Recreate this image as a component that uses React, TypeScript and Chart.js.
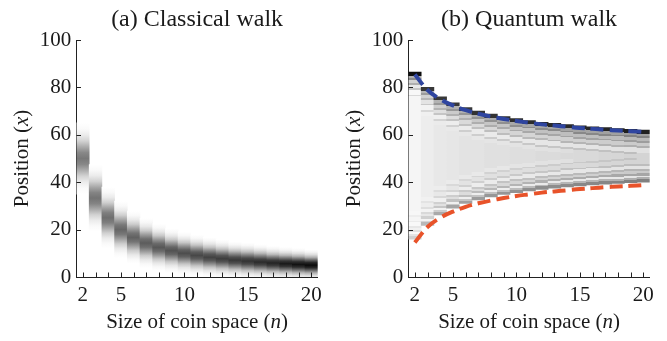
import React, { useEffect, useRef } from "react";
import { Chart, registerables } from "chart.js";

Chart.register(...registerables);

// ---------- data ----------
const N_VALUES = [2, 3, 4, 5, 6, 7, 8, 9, 10, 11, 12, 13, 14, 15, 16, 17, 18, 19, 20];
const X_LABELED = [2, 5, 10, 15, 20];
const Y_MIN = 0;
const Y_MAX = 100;
const Y_STEP = 20;

// Classical walk: centre, spread and peak darkness of each column
const CLASSICAL_CENTER = [50, 33.3, 25, 20, 16.7, 14.3, 12.5, 11.1, 10, 9.1, 8.3, 7.7, 7.1, 6.7, 6.3, 5.9, 5.6, 5.3, 5];
const CLASSICAL_SPREAD = [5, 4.7, 4.3, 4.0, 3.7, 3.5, 3.3, 3.1, 3.0, 2.9, 2.8, 2.7, 2.6, 2.6, 2.5, 2.4, 2.35, 2.3, 2.2];
const CLASSICAL_PEAK = [0.53, 0.55, 0.57, 0.6, 0.62, 0.64, 0.66, 0.68, 0.7, 0.72, 0.74, 0.76, 0.78, 0.8, 0.83, 0.86, 0.9, 0.93, 0.96];
const CLASSICAL_PROFILE = [0, 0.04, 0.14, 0.32, 0.61, 0.88, 1, 0.88, 0.61, 0.32, 0.14, 0.04, 0];

// Quantum walk: extent of each column and its shades
const QUANTUM_COL_TOP = [86.5, 80, 76, 73.5, 71.5, 70, 68.7, 67.7, 66.8, 66, 65.3, 64.8, 64.3, 63.8, 63.4, 63, 62.6, 62.3, 62];
const QUANTUM_COL_BOTTOM = [16, 21.8, 26.2, 29, 31, 32.5, 33.8, 34.8, 35.6, 36.3, 37, 37.5, 38, 38.4, 38.8, 39.2, 39.5, 39.8, 40];
const QUANTUM_TOP_SHADE = [0.95, 0.78, 0.78, 0.78, 0.78, 0.8, 0.8, 0.82, 0.82, 0.83, 0.83, 0.84, 0.84, 0.85, 0.85, 0.86, 0.86, 0.88, 0.88];
const QUANTUM_MID_SHADE = [0.04, 0.07, 0.09, 0.1, 0.11, 0.11, 0.12, 0.12, 0.13, 0.13, 0.14, 0.14, 0.15, 0.15, 0.15, 0.16, 0.16, 0.17, 0.17];
const QUANTUM_BOTTOM_SHADE = [0.2, 0.3, 0.36, 0.38, 0.4, 0.42, 0.44, 0.45, 0.46, 0.47, 0.48, 0.48, 0.49, 0.5, 0.5, 0.51, 0.52, 0.53, 0.53];
// stripes measured from each edge (position units): [from, to, level]
const QUANTUM_TOP_STRIPES: [number, number, number][] = [
  [0, 1.5, 1], [1.5, 2.5, 0.3], [2.5, 3.3, 0.45], [3.3, 4.6, 0.15], [4.6, 5.4, 0.3],
  [5.4, 6.8, 0.05], [6.8, 7.6, 0.2], [7.6, 9.5, -0.3], [9.5, 10.3, 0.12], [10.3, 12, -0.15],
];
const QUANTUM_BOTTOM_STRIPES: [number, number, number][] = [
  [0, 1.2, 0.9], [1.2, 2, 0.4], [2, 2.8, -0.4], [2.8, 3.8, 0.5], [3.8, 4.8, 0.1],
  [4.8, 5.6, 0.35], [5.6, 7, -0.35], [7, 7.8, 0.25], [7.8, 9.5, 0], [9.5, 10.3, 0.18], [10.3, 12, -0.2],
];
// dashed bounds
const QUANTUM_UPPER = [85.4, 78.9, 75, 72.4, 70.4, 68.9, 67.7, 66.7, 65.8, 65.1, 64.4, 63.9, 63.4, 62.9, 62.5, 62.1, 61.8, 61.5, 61.2];
const QUANTUM_LOWER = [14.6, 21.1, 25, 27.6, 29.6, 31.1, 32.3, 33.3, 34.2, 34.9, 35.6, 36.1, 36.6, 37.1, 37.5, 37.9, 38.2, 38.5, 38.8];

// ---------- styles ----------
const FONT = '"Liberation Serif", "Times New Roman", Times, serif';
const TEXT = "#1a1a1a";
const BLUE = "#2f45a0";
const ORANGE = "#e8532a";

function gray(d: number) {
  const v = Math.round(255 * (1 - Math.max(0, Math.min(1, d))));
  return `rgb(${v},${v},${v})`;
}

function classicalFill(ctx: any) {
  const chart = ctx.chart;
  const y = chart.scales && chart.scales.y;
  const i = ctx.dataIndex;
  if (!y || i == null) return "#888";
  const c = CLASSICAL_CENTER[i];
  const s = CLASSICAL_SPREAD[i];
  const y0 = y.getPixelForValue(c + 3 * s);
  const y1 = y.getPixelForValue(c - 3 * s);
  if (!isFinite(y0) || !isFinite(y1) || y0 === y1) return "#888";
  const g = chart.ctx.createLinearGradient(0, y0, 0, y1);
  const n = CLASSICAL_PROFILE.length;
  CLASSICAL_PROFILE.forEach((t, k) => g.addColorStop(k / (n - 1), gray(CLASSICAL_PEAK[i] * t)));
  return g;
}

function quantumFill(ctx: any) {
  const chart = ctx.chart;
  const y = chart.scales && chart.scales.y;
  const i = ctx.dataIndex;
  if (!y || i == null) return "#ddd";
  const top = QUANTUM_COL_TOP[i];
  const bot = QUANTUM_COL_BOTTOM[i];
  const h = top - bot;
  const y0 = y.getPixelForValue(top);
  const y1 = y.getPixelForValue(bot);
  if (!isFinite(y0) || !isFinite(y1) || y0 === y1) return "#ddd";
  const mid = QUANTUM_MID_SHADE[i];
  const shade = (lvl: number, edge: number) => (lvl >= 0 ? mid + (edge - mid) * lvl : mid * (1 + lvl));
  const g = chart.ctx.createLinearGradient(0, y0, 0, y1);
  let topEnd = 0;
  for (const [d0, d1, lvl] of QUANTUM_TOP_STRIPES) {
    if (d1 / h > 0.46) break;
    const col = gray(shade(lvl, QUANTUM_TOP_SHADE[i]));
    g.addColorStop(d0 / h, col);
    g.addColorStop(d1 / h, col);
    topEnd = d1 / h;
  }
  const bottomStops: [number, number, string][] = [];
  let botStart = 1;
  for (const [d0, d1, lvl] of QUANTUM_BOTTOM_STRIPES) {
    if (d1 / h > 0.46) break;
    bottomStops.push([1 - d1 / h, 1 - d0 / h, gray(shade(lvl, QUANTUM_BOTTOM_SHADE[i]))]);
    botStart = 1 - d1 / h;
  }
  g.addColorStop(topEnd, gray(mid));
  g.addColorStop(botStart, gray(mid));
  bottomStops.reverse().forEach(([o0, o1, col]) => {
    g.addColorStop(o0, col);
    g.addColorStop(o1, col);
  });
  return g;
}

function drawMixed(ctx: CanvasRenderingContext2D, parts: [string, boolean][], cx: number, y: number, size: number) {
  const fonts = parts.map(([, it]) => `${it ? "italic " : ""}${size}px ${FONT}`);
  const widths = parts.map(([t], k) => {
    ctx.font = fonts[k];
    return ctx.measureText(t).width;
  });
  const total = widths.reduce((a, b) => a + b, 0);
  let x = cx - total / 2;
  ctx.textAlign = "left";
  ctx.textBaseline = "alphabetic";
  parts.forEach(([t], k) => {
    ctx.font = fonts[k];
    ctx.fillText(t, x, y);
    x += widths[k];
  });
}

function makeDecor(title: string) {
  return {
    id: "decor",
    afterDatasetsDraw(chart: any) {
      const { ctx, chartArea } = chart;
      const xs = chart.scales.x;
      const ys = chart.scales.y;
      ctx.save();
      ctx.strokeStyle = "#222";
      ctx.lineWidth = 1;
      ctx.beginPath();
      for (let i = 0; i < xs.ticks.length; i++) {
        const px = Math.round(xs.getPixelForTick(i)) + 0.5;
        ctx.moveTo(px, chartArea.bottom);
        ctx.lineTo(px, chartArea.bottom - 4.5);
      }
      ys.ticks.forEach((t: any) => {
        const py = Math.round(ys.getPixelForValue(t.value)) + 0.5;
        ctx.moveTo(chartArea.left, py);
        ctx.lineTo(chartArea.left + 4.5, py);
      });
      ctx.stroke();
      ctx.restore();
    },
    afterDraw(chart: any) {
      const { ctx, chartArea } = chart;
      const cx = (chartArea.left + chartArea.right) / 2;
      const cy = (chartArea.top + chartArea.bottom) / 2;
      ctx.save();
      ctx.fillStyle = TEXT;
      ctx.font = `24px ${FONT}`;
      ctx.textAlign = "center";
      ctx.textBaseline = "alphabetic";
      ctx.fillText(title, cx, 26);
      drawMixed(ctx, [["Size of coin space (", false], ["n", true], [")", false]], cx, 328, 21);
      ctx.translate(28, cy);
      ctx.rotate(-Math.PI / 2);
      drawMixed(ctx, [["Position (", false], ["x", true], [")", false]], 0, 0, 21);
      ctx.restore();
    },
  };
}

function makeConfig(kind: "classical" | "quantum"): any {
  const datasets: any[] = [];
  if (kind === "classical") {
    datasets.push({
      type: "bar",
      data: N_VALUES.map((_, i) => [
        CLASSICAL_CENTER[i] - 3 * CLASSICAL_SPREAD[i],
        CLASSICAL_CENTER[i] + 3 * CLASSICAL_SPREAD[i],
      ]),
      backgroundColor: classicalFill,
      borderWidth: 0,
      barPercentage: 1,
      categoryPercentage: 1,
      order: 1,
    });
  } else {
    datasets.push({
      type: "line",
      data: QUANTUM_UPPER,
      borderColor: BLUE,
      borderWidth: 4,
      borderDash: [13, 6],
      pointRadius: 0,
      tension: 0.4,
      fill: false,
      order: 0,
    });
    datasets.push({
      type: "line",
      data: QUANTUM_LOWER,
      borderColor: ORANGE,
      borderWidth: 4,
      borderDash: [13, 6],
      pointRadius: 0,
      tension: 0.4,
      fill: false,
      order: 0,
    });
    datasets.push({
      type: "bar",
      data: N_VALUES.map((_, i) => [QUANTUM_COL_BOTTOM[i], QUANTUM_COL_TOP[i]]),
      backgroundColor: quantumFill,
      borderWidth: 0,
      barPercentage: 1,
      categoryPercentage: 1,
      order: 1,
    });
  }
  const tickFont = { family: FONT, size: 21 };
  return {
    type: "bar",
    data: { labels: N_VALUES.map(String), datasets },
    options: {
      responsive: false,
      animation: false,
      events: [],
      layout: { padding: { top: 40, right: 15.3, bottom: 0, left: 0 } },
      plugins: { legend: { display: false }, tooltip: { enabled: false }, title: { display: false } },
      scales: {
        x: {
          type: "category",
          grid: { display: false, drawTicks: false },
          border: { display: true, color: "#222", width: 1 },
          ticks: {
            autoSkip: false,
            maxRotation: 0,
            padding: 5.5,
            color: TEXT,
            font: tickFont,
            callback: (_v: any, i: number) => (X_LABELED.includes(N_VALUES[i]) ? String(N_VALUES[i]) : ""),
          },
          afterFit: (s: any) => {
            s.height = 64;
          },
        },
        y: {
          type: "linear",
          min: Y_MIN,
          max: Y_MAX,
          grid: { display: false, drawTicks: false },
          border: { display: true, color: "#222", width: 1 },
          ticks: { stepSize: Y_STEP, padding: 5.3, color: TEXT, font: tickFont },
          afterFit: (s: any) => {
            s.width = 76.5;
          },
        },
      },
    },
    plugins: [makeDecor(kind === "classical" ? "(a) Classical walk" : "(b) Quantum walk")],
  };
}

function Panel({ kind, left }: { kind: "classical" | "quantum"; left: number }) {
  const ref = useRef<HTMLCanvasElement>(null);
  useEffect(() => {
    if (!ref.current) return;
    const chart = new Chart(ref.current, makeConfig(kind));
    return () => chart.destroy();
  }, [kind]);
  return (
    <div style={{ position: "absolute", left, top: 0, width: 333, height: 341 }}>
      <canvas ref={ref} width={333} height={341} style={{ display: "block" }} />
    </div>
  );
}

export default function App() {
  return (
    <div style={{ position: "fixed", left: 0, top: 0, width: 667, height: 341, background: "#fff" }}>
      <Panel kind="classical" left={0} />
      <Panel kind="quantum" left={332} />
    </div>
  );
}
